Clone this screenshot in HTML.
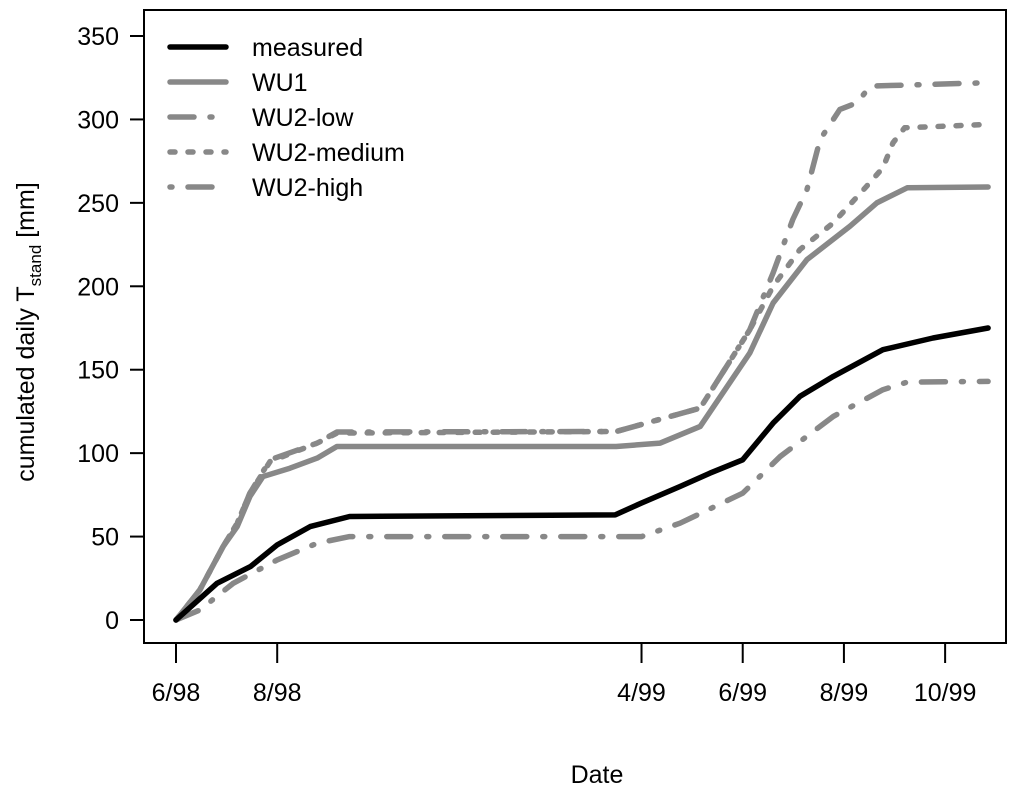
<!DOCTYPE html>
<html><head><meta charset="utf-8"><style>
body{margin:0;background:#fff;}
svg{display:block;font-family:"Liberation Sans",sans-serif;}
</style></head><body>
<svg id="chart" width="1024" height="794">
<rect x="144" y="10" width="862" height="633" fill="none" stroke="#000" stroke-width="2"/>
<g id="yaxis"></g>
<g id="xaxis"></g>
<g id="series"></g>
<text x="597" y="783" font-size="25" text-anchor="middle">Date</text>
<text transform="translate(34,332) rotate(-90)" font-size="25" text-anchor="middle">cumulated daily T<tspan font-size="17" dy="7">stand</tspan><tspan dy="-7"> [mm]</tspan></text>
<g id="legend"></g>
</svg>
<script>
const yTicks=[0,50,100,150,200,250,300,350];
const xTickPos=[0,2,9.2,11.2,13.2,15.2];
const xTickLabels=["6/98","8/98","4/99","6/99","8/99","10/99"];
const seriesNames=["measured","WU1","WU2-low","WU2-medium","WU2-high"];
const measuredX=[0,0.81,1.47,2.0,2.65,3.43,8.68,9.19,9.96,10.55,11.2,11.8,12.33,12.99,13.97,14.96,16.05];
const measuredY=[0,22,32,45,56,62,63,70,80,88,96,118,134,146,162,169,175];
const wu1X=[0,0.47,0.93,1.21,1.46,1.72,2.25,2.79,3.18,8.7,9.57,10.36,11.34,11.8,12.47,13.32,13.85,14.45,16.05];
const wu1Y=[0,18,44,56,74,86,91,97,104,104,106,116,160,190,216,236,250,259,259.5];
const lowX=[0,0.47,1.13,2.0,2.79,3.43,9.2,9.96,11.2,11.94,12.99,13.97,14.45,16.05];
const lowY=[0,6,22,36,46,50,50,58,76,98,122,138,142.6,143];
const medX=[0,0.47,0.93,1.21,1.46,1.86,2.79,3.18,8.7,10.36,11.34,11.8,12.33,12.99,13.65,13.97,14.17,14.4,16.05];
const medY=[0,18,44,58,76,95,106,112,113,127,174,200,222,238,260,271,286,295,297];
const highX=[0,0.47,0.93,1.21,1.46,1.86,2.79,3.18,8.7,10.36,11.34,11.8,12.19,12.47,12.73,13.12,13.46,13.72,16.05];
const highY=[0,18,44,58,76,96,106,112.7,113,127,174,208,240,258,288,306,310,320,322];
const NS="http://www.w3.org/2000/svg";
const X0=176,XS=50.6,Y0=620,YS=584/350;
function sx(v){return X0+v*XS;}
function sy(v){return Y0-v*YS;}
function mk(tag,attrs,parent){const e=document.createElementNS(NS,tag);for(const k in attrs)e.setAttribute(k,attrs[k]);parent.appendChild(e);return e;}
const ya=document.getElementById('yaxis');
yTicks.forEach(t=>{
 const l=mk('line',{x1:130,x2:144,y1:sy(t),y2:sy(t),stroke:'#000','stroke-width':2},ya);
 
 
 const tx=mk('text',{x:119,y:sy(t)+9,'font-size':25,'text-anchor':'end'},ya);
 tx.textContent=t;
 
 
});
const xa=document.getElementById('xaxis');
xTickPos.forEach((t,i)=>{
 const l=mk('line',{x1:sx(t),x2:sx(t),y1:643,y2:663,stroke:'#000','stroke-width':2},xa);
 
 
 const tx=mk('text',{x:sx(t),y:701,'font-size':25,'text-anchor':'middle'},xa);
 tx.textContent=xTickLabels[i];
 
 
});
const styles=[
 {c:'#000',d:''},
 {c:'#888',d:''},
 {c:'#888',d:'24 16 2 16'},
 {c:'#888',d:'5 13'},
 {c:'#888',d:'2 16 24 16'}
];
const data=[[measuredX,measuredY],[wu1X,wu1Y],[lowX,lowY],[medX,medY],[highX,highY]];
const sg=document.getElementById('series');
[4,3,2,1,0].forEach(i=>{
 const [xs,ys]=data[i];
 const pts=xs.map((x,j)=>sx(x).toFixed(1)+','+sy(ys[j]).toFixed(1)).join(' ');
 const p=mk('polyline',{points:pts,fill:'none',stroke:styles[i].c,'stroke-width':5.5,'stroke-linecap':'round','stroke-linejoin':'round'},sg);
 if(styles[i].d)p.setAttribute('stroke-dasharray',styles[i].d);
 
 
});
const lg=document.getElementById('legend');
seriesNames.forEach((n,i)=>{
 const y=47+i*35;
 const l=mk('line',{x1:170,x2:226,y1:y,y2:y,stroke:styles[i].c,'stroke-width':5.5,'stroke-linecap':'round'},lg);
 if(styles[i].d)l.setAttribute('stroke-dasharray',styles[i].d);
 
 
 const t=mk('text',{x:252,y:y+9,'font-size':25},lg);
 t.textContent=n;
 
 
});
</script>
</body></html>
